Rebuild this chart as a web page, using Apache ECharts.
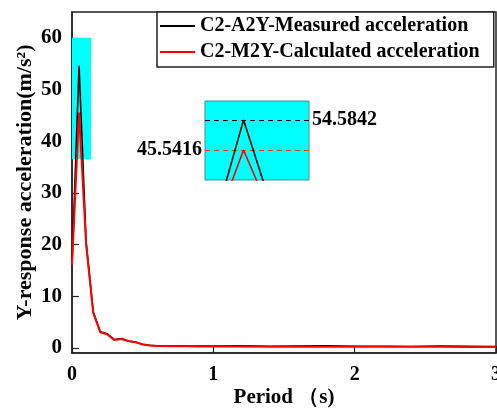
<!DOCTYPE html>
<html>
<head>
<meta charset="utf-8">
<script src="https://cdn.jsdelivr.net/npm/echarts@6/dist/echarts.min.js"></script>
<style>html,body{margin:0;padding:0;background:#fff;}#c{width:497px;height:408px;}</style>
</head>
<body>
<div id="c"></div>
<script>
var periods = [0, 0.05, 0.1, 0.15, 0.2, 0.25, 0.3, 0.35, 0.4, 0.45, 0.5, 0.55, 0.6, 0.7, 0.8, 0.9, 1.0, 1.2, 1.4, 1.6, 1.8, 2.0, 2.2, 2.4, 2.6, 2.8, 3.0];
var measured = [16, 54.5842, 20.5, 7.0, 3.1, 2.7, 1.6, 1.8, 1.3, 1.1, 0.7, 0.5, 0.4, 0.35, 0.35, 0.35, 0.35, 0.4, 0.3, 0.35, 0.4, 0.3, 0.3, 0.25, 0.35, 0.3, 0.25];
var calculated = [16, 45.5416, 20, 6.8, 3.0, 2.6, 1.5, 1.7, 1.3, 1.1, 0.65, 0.45, 0.35, 0.3, 0.3, 0.25, 0.25, 0.25, 0.2, 0.2, 0.2, 0.2, 0.2, 0.2, 0.2, 0.15, 0.15];
var xTicks = [0, 1, 2, 3];
var yTicks = [0, 10, 20, 30, 40, 50, 60];
var seriesNames = ['C2-A2Y-Measured acceleration', 'C2-M2Y-Calculated acceleration'];
var peakMeasured = 54.5842;
var peakCalculated = 45.5416;
var zoomBox = {x0: 0, x1: 0.135, y0: 36.5, y1: 60};

function pairs(xs, ys) { return xs.map(function (x, i) { return [x, ys[i]]; }); }

var font = 'Liberation Serif, Times New Roman, serif';
var chart = echarts.init(document.getElementById('c'), null, {renderer: 'canvas'});
chart.setOption({
  animation: false,
  backgroundColor: '#fff',
  textStyle: {fontFamily: font},
  grid: [
    {left: 72, top: 12, right: 1, bottom: 55, show: true, borderColor: '#222', borderWidth: 1.5,
     backgroundColor: 'transparent', containLabel: false, outerBoundsMode: 'none'},
    {left: 205, top: 101, width: 104, height: 79, show: true, backgroundColor: '#00ffff',
     borderColor: '#3f8f8f', borderWidth: 1, containLabel: false, outerBoundsMode: 'none'}
  ],
  legend: {
    data: seriesNames,
    orient: 'vertical',
    left: 157, top: 12,
    padding: [4, 14, 5, 3],
    itemGap: 6,
    icon: 'rect',
    itemWidth: 35, itemHeight: 2,
    backgroundColor: '#fff', borderColor: '#222', borderWidth: 1.5, borderRadius: 0,
    textStyle: {fontFamily: font, fontWeight: 'bold', fontSize: 20, color: '#000', lineHeight: 20}
  },
  xAxis: [
    {type: 'value', gridIndex: 0, min: 0, max: 3, interval: 1,
     name: 'Period （s)', nameLocation: 'middle', nameGap: 34, nameMoveOverlap: false,
     nameTextStyle: {fontFamily: font, fontWeight: 'bold', fontSize: 21, color: '#000'},
     axisLine: {onZero: false, lineStyle: {color: '#222', width: 1.5}},
     axisTick: {inside: true, length: 7, lineStyle: {color: '#222', width: 1.2}},
     axisLabel: {fontFamily: font, fontWeight: 'bold', fontSize: 20, color: '#000', margin: 12,
       formatter: function (v) { return xTicks.indexOf(v) >= 0 ? String(v) : ''; }},
     splitLine: {show: false}},
    {type: 'value', gridIndex: 1, min: -0.003, max: 0.14, show: false}
  ],
  yAxis: [
    {type: 'value', gridIndex: 0, min: -1, max: 65, interval: 10,
     name: 'Y-response acceleration(m/s²)', nameLocation: 'middle', nameGap: 36, nameMoveOverlap: false,
     nameTextStyle: {fontFamily: font, fontWeight: 'bold', fontSize: 22, color: '#000'},
     axisLine: {onZero: false, lineStyle: {color: '#222', width: 1.5}},
     axisTick: {inside: true, length: 7, lineStyle: {color: '#222', width: 1.2},
       customValues: yTicks},
     axisLabel: {fontFamily: font, fontWeight: 'bold', fontSize: 21, color: '#000', margin: 10,
       customValues: yTicks},
     splitLine: {show: false}},
    {type: 'value', gridIndex: 1, min: 36.5, max: 60.3, show: false}
  ],
  series: [
    {type: 'line', name: 'zoombox', xAxisIndex: 0, yAxisIndex: 0, data: [], z: 1, silent: true,
     markArea: {silent: true, itemStyle: {color: '#00ffff', opacity: 1},
       data: [[{xAxis: zoomBox.x0, yAxis: zoomBox.y0}, {xAxis: zoomBox.x1, yAxis: zoomBox.y1}]]}},
    {type: 'line', name: seriesNames[0], xAxisIndex: 0, yAxisIndex: 0, data: pairs(periods, measured),
     showSymbol: false, symbol: 'none', z: 3, lineStyle: {color: '#000', width: 1.6}, itemStyle: {color: '#000'}},
    {type: 'line', name: seriesNames[1], xAxisIndex: 0, yAxisIndex: 0, data: pairs(periods, calculated),
     showSymbol: false, symbol: 'none', z: 4, lineStyle: {color: '#ff0000', width: 2}, itemStyle: {color: '#ff0000'}},
    {type: 'line', name: 'inset-m', xAxisIndex: 1, yAxisIndex: 1, data: pairs(periods, measured),
     showSymbol: false, symbol: 'none', z: 5, clip: true, lineStyle: {color: '#000', width: 1.6},
     markLine: {silent: true, symbol: 'none', animation: false,
       lineStyle: {color: '#000', type: [5, 4], width: 1.2},
       label: {position: 'end', distance: 3, formatter: String(peakMeasured), fontFamily: font, fontWeight: 'bold', fontSize: 20, color: '#000'},
       data: [{yAxis: peakMeasured}]}},
    {type: 'line', name: 'inset-c', xAxisIndex: 1, yAxisIndex: 1, data: pairs(periods, calculated),
     showSymbol: false, symbol: 'none', z: 6, clip: true, lineStyle: {color: '#ff0000', width: 1.6},
     markLine: {silent: true, symbol: 'none', animation: false,
       lineStyle: {color: '#ff3030', type: [5, 4], width: 1.2},
       label: {position: 'start', distance: 3, formatter: String(peakCalculated), fontFamily: font, fontWeight: 'bold', fontSize: 20, color: '#000'},
       data: [{yAxis: peakCalculated}]}}
  ]
});
</script>
</body>
</html>
